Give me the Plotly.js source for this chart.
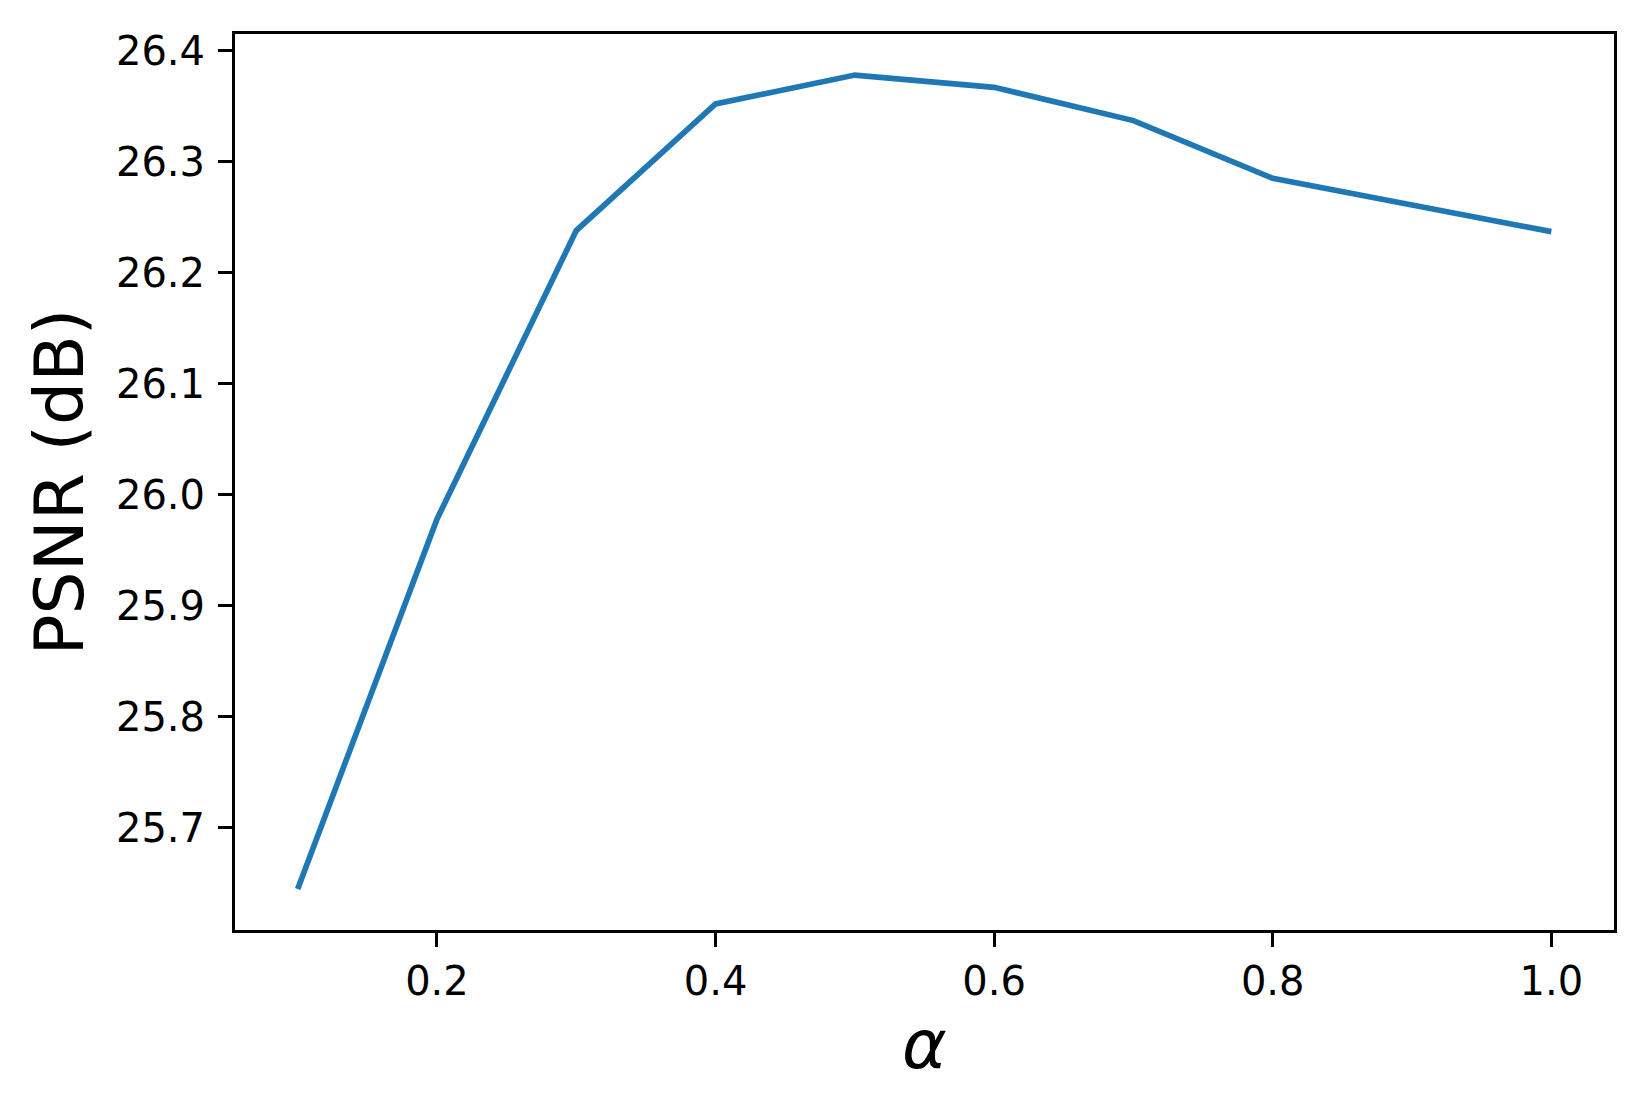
<!DOCTYPE html>
<html>
<head>
<meta charset="utf-8">
<script src="https://cdn.plot.ly/plotly-3.0.1.min.js"></script>
<style>html,body{margin:0;padding:0;background:#fff;}</style>
</head>
<body>
<div id="chart" style="width:1648px;height:1102px;"></div>
<script>
const alpha = [0.1, 0.2, 0.3, 0.4, 0.5, 0.6, 0.7, 0.8, 0.9, 1.0];
const psnr = [25.645, 25.978, 26.238, 26.352, 26.378, 26.367, 26.337, 26.285, 26.261, 26.237];
const xTicks = [0.2, 0.4, 0.6, 0.8, 1.0];
const yTicks = [25.7, 25.8, 25.9, 26.0, 26.1, 26.2, 26.3, 26.4];

const font = "DejaVu Sans, sans-serif";
Plotly.newPlot('chart', [{
  x: alpha, y: psnr, type: 'scatter', mode: 'lines',
  line: {color: '#1f77b4', width: 5.7}
}], {
  width: 1648, height: 1102,
  margin: {l: 235, r: 34, t: 34, b: 172},
  paper_bgcolor: '#fff', plot_bgcolor: '#fff',
  showlegend: false,
  font: {family: font, color: '#000'},
  xaxis: {
    range: [0.055, 1.045], tickvals: xTicks, tickformat: '.1f',
    ticks: 'outside', ticklen: 14, tickwidth: 3, tickcolor: '#000',
    showline: true, linewidth: 3, linecolor: '#000', mirror: true,
    showgrid: false, zeroline: false,
    tickfont: {size: 40, family: font},
    title: {text: '<i>α</i>', font: {size: 68, family: font}, standoff: 18}
  },
  yaxis: {
    range: [25.608, 26.415], tickvals: yTicks, tickformat: '.1f',
    ticks: 'outside', ticklen: 14, tickwidth: 3, tickcolor: '#000',
    showline: true, linewidth: 3, linecolor: '#000', mirror: true,
    showgrid: false, zeroline: false, ticklabelstandoff: 5,
    tickfont: {size: 40, family: font},
    title: {text: 'PSNR (dB)', font: {size: 68, family: font}, standoff: 11}
  }
}, {displayModeBar: false, staticPlot: true});
</script>
</body>
</html>
